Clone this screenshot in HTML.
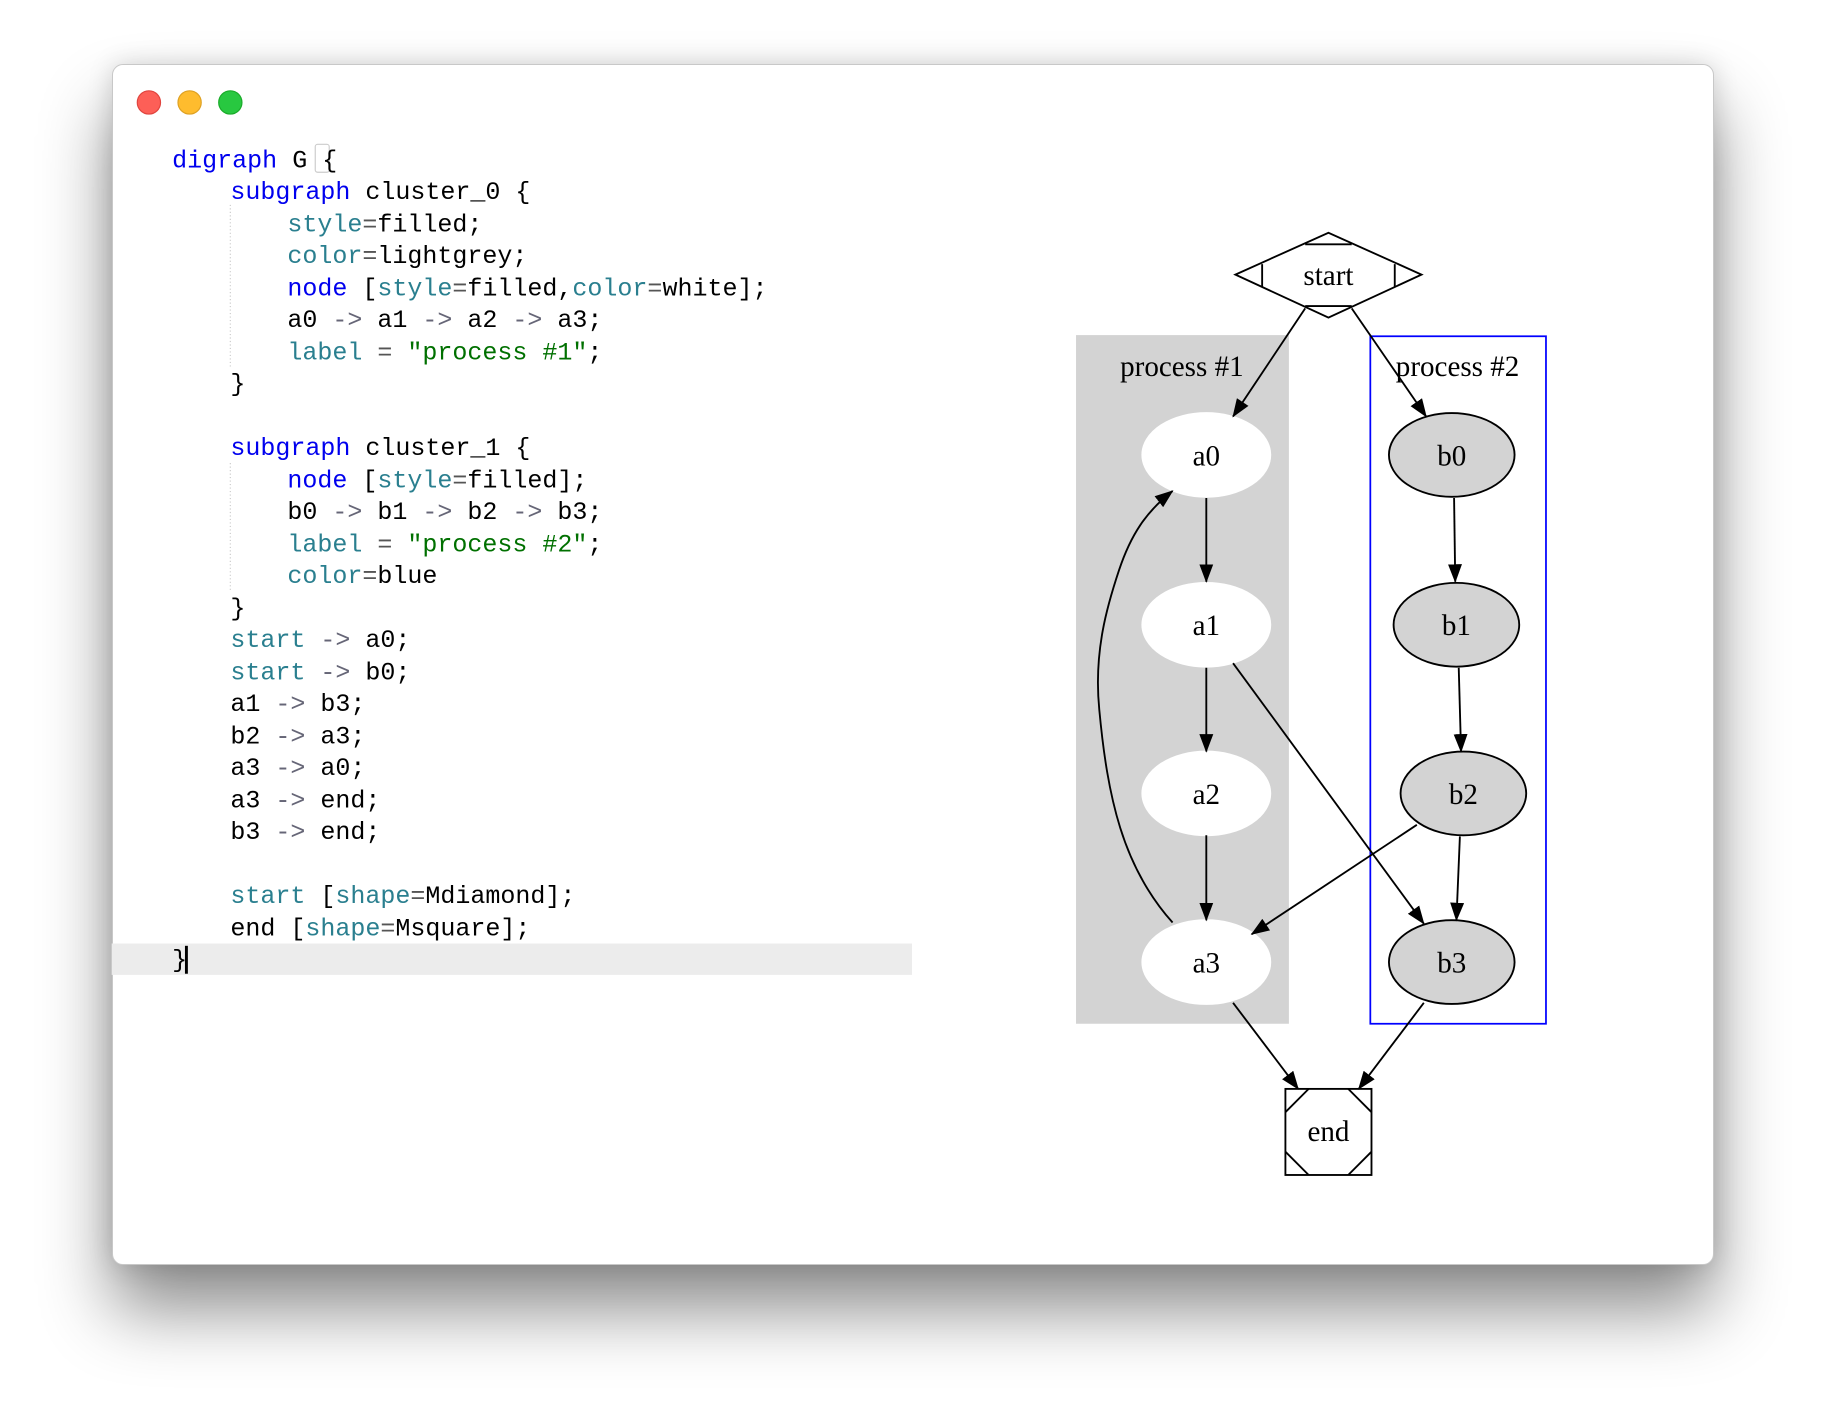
<!DOCTYPE html>
<html><head><meta charset="utf-8"><style>
html,body{margin:0;padding:0;background:#fff;width:1824px;height:1424px;overflow:hidden}
.win{position:absolute;left:112px;top:64px;width:1600px;height:1199px;background:#fff;border-radius:11px;border:1px solid #c8c8c8;box-shadow:0 45px 70px rgba(0,0,0,0.45),0 0 25px rgba(0,0,0,0.15)}
svg{position:absolute;left:0;top:0}
</style></head><body>
<div class="win"></div>
<svg width="1824" height="1424" viewBox="0 0 1568 1224" xmlns="http://www.w3.org/2000/svg">
<defs><marker id="ah" markerWidth="16" markerHeight="12" refX="15" refY="6" orient="auto" markerUnits="userSpaceOnUse"><path d="M0,0 L16,6 L0,12 Z" fill="#000"/></marker></defs>
<circle cx="128" cy="88" r="10" fill="#fd5f57" stroke="#e0443e" stroke-width="1"/>
<circle cx="163" cy="88" r="10" fill="#febc2e" stroke="#dea123" stroke-width="1"/>
<circle cx="198" cy="88" r="10" fill="#28c840" stroke="#1aab29" stroke-width="1"/>
<rect x="96" y="811" width="688" height="27" fill="#ececec"/>
<line x1="198" y1="176" x2="198" y2="316" stroke="#ccc" stroke-dasharray="1,2"/>
<line x1="198" y1="398" x2="198" y2="508" stroke="#ccc" stroke-dasharray="1,2"/>
<rect x="271" y="124" width="12" height="24" fill="none" stroke="#ccc" rx="2"/>
<g font-family="Liberation Mono, monospace" font-size="21.5" fill="#000">
<text x="148" y="144"><tspan fill="#0000ee">digraph</tspan> G {</text>
<text x="198" y="171"><tspan fill="#0000ee">subgraph</tspan> cluster_0 {</text>
<text x="247" y="199"><tspan fill="#2a7f8f">style</tspan><tspan fill="#555">=</tspan>filled;</text>
<text x="247" y="226"><tspan fill="#2a7f8f">color</tspan><tspan fill="#555">=</tspan>lightgrey;</text>
<text x="247" y="254"><tspan fill="#0000ee">node</tspan> [<tspan fill="#2a7f8f">style</tspan><tspan fill="#555">=</tspan>filled,<tspan fill="#2a7f8f">color</tspan><tspan fill="#555">=</tspan>white];</text>
<text x="247" y="281">a0 <tspan fill="#667">-&gt;</tspan> a1 <tspan fill="#667">-&gt;</tspan> a2 <tspan fill="#667">-&gt;</tspan> a3;</text>
<text x="247" y="309"><tspan fill="#2a7f8f">label</tspan> <tspan fill="#555">=</tspan> <tspan fill="#007000">"process #1"</tspan>;</text>
<text x="198" y="336">}</text>
<text x="198" y="391"><tspan fill="#0000ee">subgraph</tspan> cluster_1 {</text>
<text x="247" y="419"><tspan fill="#0000ee">node</tspan> [<tspan fill="#2a7f8f">style</tspan><tspan fill="#555">=</tspan>filled];</text>
<text x="247" y="446">b0 <tspan fill="#667">-&gt;</tspan> b1 <tspan fill="#667">-&gt;</tspan> b2 <tspan fill="#667">-&gt;</tspan> b3;</text>
<text x="247" y="474"><tspan fill="#2a7f8f">label</tspan> <tspan fill="#555">=</tspan> <tspan fill="#007000">"process #2"</tspan>;</text>
<text x="247" y="501"><tspan fill="#2a7f8f">color</tspan><tspan fill="#555">=</tspan>blue</text>
<text x="198" y="529">}</text>
<text x="198" y="556"><tspan fill="#2a7f8f">start</tspan> <tspan fill="#667">-&gt;</tspan> a0;</text>
<text x="198" y="584"><tspan fill="#2a7f8f">start</tspan> <tspan fill="#667">-&gt;</tspan> b0;</text>
<text x="198" y="611">a1 <tspan fill="#667">-&gt;</tspan> b3;</text>
<text x="198" y="639">b2 <tspan fill="#667">-&gt;</tspan> a3;</text>
<text x="198" y="666">a3 <tspan fill="#667">-&gt;</tspan> a0;</text>
<text x="198" y="694">a3 <tspan fill="#667">-&gt;</tspan> end;</text>
<text x="198" y="721">b3 <tspan fill="#667">-&gt;</tspan> end;</text>
<text x="198" y="776"><tspan fill="#2a7f8f">start</tspan> [<tspan fill="#2a7f8f">shape</tspan><tspan fill="#555">=</tspan>Mdiamond];</text>
<text x="198" y="804">end [<tspan fill="#2a7f8f">shape</tspan><tspan fill="#555">=</tspan>Msquare];</text>
<text x="148" y="831">}</text>
</g>
<rect x="159" y="813" width="2.5" height="24" fill="#000"/>
<!-- graph -->
<rect x="925" y="288" width="183" height="592" fill="#d3d3d3"/>
<rect x="1178" y="289" width="151" height="591" fill="none" stroke="#0000ff" stroke-width="1.5"/>
<g font-family="Liberation Serif, serif" font-size="25" text-anchor="middle" fill="#000">
<text x="1016" y="323">process #1</text>
<text x="1253" y="323">process #2</text>
</g>
<g stroke="#000" stroke-width="1.6" fill="none">
<path d="M1062,236 L1142,200 L1222,236 L1142,273 Z" fill="#fff"/>
<path d="M1085,227 L1085,247 M1199,227 L1199,247 M1122,210 L1162,210 M1122,263 L1162,263"/>
<ellipse cx="1037" cy="391" rx="55" ry="36" fill="#fff" stroke="#fff"/>
<ellipse cx="1037" cy="537" rx="55" ry="36" fill="#fff" stroke="#fff"/>
<ellipse cx="1037" cy="682" rx="55" ry="36" fill="#fff" stroke="#fff"/>
<ellipse cx="1037" cy="827" rx="55" ry="36" fill="#fff" stroke="#fff"/>
<ellipse cx="1248" cy="391" rx="54" ry="36" fill="#d3d3d3"/>
<ellipse cx="1252" cy="537" rx="54" ry="36" fill="#d3d3d3"/>
<ellipse cx="1258" cy="682" rx="54" ry="36" fill="#d3d3d3"/>
<ellipse cx="1248" cy="827" rx="54" ry="36" fill="#d3d3d3"/>
<rect x="1105" y="936" width="74" height="74" fill="#fff"/>
<path d="M1105,956 L1125,936 M1159,936 L1179,956 M1105,990 L1125,1010 M1159,1010 L1179,990"/>
<g marker-end="url(#ah)">
<line x1="1122" y1="265" x2="1060" y2="358"/>
<line x1="1162" y1="265" x2="1226" y2="358"/>
<line x1="1037" y1="428" x2="1037" y2="500"/>
<line x1="1037" y1="574" x2="1037" y2="646"/>
<line x1="1037" y1="718" x2="1037" y2="791"/>
<line x1="1250" y1="428" x2="1251" y2="500"/>
<line x1="1254" y1="574" x2="1256" y2="646"/>
<line x1="1255" y1="719" x2="1252" y2="791"/>
<line x1="1060" y1="570" x2="1224" y2="794"/>
<line x1="1218" y1="709" x2="1076" y2="803"/>
<path d="M1008,793 C965,745 952,685 945,610 C940,560 952,520 962,490 C972,460 985,440 1008,422"/>
<line x1="1060" y1="862" x2="1116" y2="936"/>
<line x1="1224" y1="862" x2="1168" y2="936"/>
</g>
</g>
<g font-family="Liberation Serif, serif" font-size="25" text-anchor="middle" fill="#000">
<text x="1142" y="245">start</text>
<text x="1037" y="400">a0</text><text x="1037" y="546">a1</text><text x="1037" y="691">a2</text><text x="1037" y="836">a3</text>
<text x="1248" y="400">b0</text><text x="1252" y="546">b1</text><text x="1258" y="691">b2</text><text x="1248" y="836">b3</text>
<text x="1142" y="981">end</text>
</g>
</svg>
</body></html>
